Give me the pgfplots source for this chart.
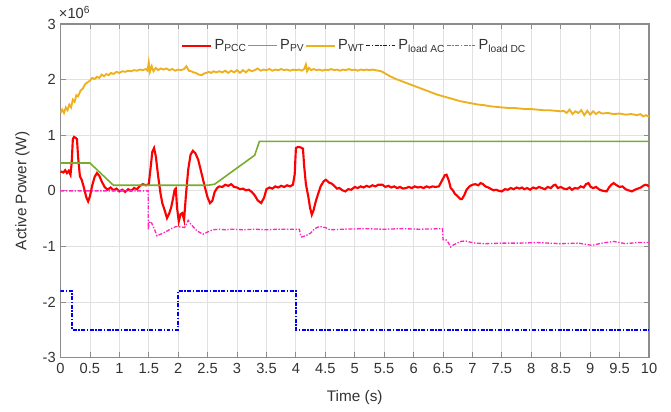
\documentclass[border=0pt]{standalone}
\usepackage{fontspec}
\setmainfont{Liberation Sans}
\usepackage{pgfplots}
\pgfplotsset{compat=1.18}
\definecolor{pcc}{RGB}{255,0,0}
\definecolor{pv}{RGB}{119,172,48}
\definecolor{wt}{RGB}{237,177,32}
\definecolor{lac}{RGB}{0,0,255}
\definecolor{ldc}{RGB}{255,40,190}
\definecolor{gridc}{RGB}{225,225,225}
\definecolor{axc}{RGB}{140,140,140}
\definecolor{txt}{RGB}{50,50,50}
\begin{document}
\begin{tikzpicture}
\begin{axis}[
  scale only axis,
  clip mode=individual,
  width=441.75pt, height=250.5pt,
  xmin=0, xmax=10, ymin=-3, ymax=3,
  xtick distance=0.5, ytick={-3,-2,-1,0,1,2,3},
  tick align=inside,
  major tick length=4pt,
  grid=major,
  major grid style={gridc, line width=0.6pt},
  axis line style={axc, line width=0.8pt},
  tick style={axc, line width=0.6pt},
  every tick label/.append style={font=\fontsize{11}{12}\selectfont, text=txt},
  /pgf/number format/assume math mode=true,
  xticklabel style={yshift=-1pt},
  xlabel={Time (s)}, ylabel={Active Power (W)},
  label style={font=\fontsize{11.5}{13}\selectfont, text=txt},
  xlabel style={yshift=-5pt},
  ylabel style={yshift=3pt},
  legend columns=5,
  legend style={draw=none, fill=none, at={(rel axis cs:0.198,0.97)}, anchor=north west,
    font=\fontsize{11}{12}\selectfont, text=txt,
    /tikz/every even column/.append style={column sep=-1.3pt},
    /tikz/every odd column/.append style={column sep=0pt}},
  legend image code/.code={\draw[#1] (0cm,0cm) -- (0.75cm,0cm);},
]
\addplot[pcc, line width=1.6pt] coordinates {
(0,0.35)(0.05,0.33)(0.08,0.37)(0.11,0.32)(0.14,0.36)(0.17,0.29)(0.19,0.5)(0.21,0.93)(0.23,0.97)(0.26,0.95)(0.28,0.93)(0.30,0.6)(0.33,0.26)(0.36,0.2)(0.40,0.05)(0.44,-0.12)(0.47,-0.19)(0.50,-0.1)(0.54,0.1)(0.58,0.25)(0.62,0.32)(0.66,0.27)(0.70,0.17)(0.75,0.07)(0.80,0.02)(0.85,0.06)(0.90,0.01)(0.95,0.04)(1.00,-0.01)(1.05,0.02)(1.10,-0.02)(1.15,0.03)(1.20,0.0)(1.25,0.05)(1.30,0.03)(1.35,0.09)(1.40,0.12)(1.45,0.10)(1.50,0.12)(1.53,0.4)(1.56,0.70)(1.59,0.77)(1.62,0.62)(1.66,0.26)(1.70,-0.05)(1.73,-0.22)(1.77,-0.35)(1.81,-0.49)(1.85,-0.40)(1.88,-0.30)(1.91,-0.15)(1.94,0.02)(1.96,0.04)(1.98,-0.3)(2.01,-0.55)(2.04,-0.42)(2.07,-0.40)(2.10,-0.52)(2.13,-0.1)(2.17,0.38)(2.21,0.65)(2.25,0.72)(2.29,0.68)(2.34,0.56)(2.40,0.3)(2.45,0.08)(2.50,-0.12)(2.54,-0.22)(2.58,-0.18)(2.62,-0.02)(2.66,0.05)(2.70,0.08)(2.75,0.07)(2.80,0.11)(2.85,0.09)(2.90,0.12)(2.95,0.07)(3.00,0.06)(3.05,0.03)(3.10,0.04)(3.15,0.01)(3.20,0.02)(3.25,-0.02)(3.30,-0.08)(3.35,-0.17)(3.41,-0.22)(3.46,-0.12)(3.50,0.03)(3.55,0.06)(3.60,0.04)(3.65,0.08)(3.70,0.06)(3.75,0.09)(3.80,0.07)(3.85,0.10)(3.90,0.08)(3.95,0.11)(3.98,0.3)(4.00,0.77)(4.04,0.79)(4.08,0.78)(4.12,0.76)(4.14,0.45)(4.17,0.12)(4.21,-0.1)(4.24,-0.3)(4.27,-0.43)(4.30,-0.35)(4.34,-0.18)(4.37,-0.08)(4.42,0.08)(4.47,0.17)(4.51,0.20)(4.56,0.15)(4.61,0.13)(4.66,0.08)(4.70,0.04)(4.74,0.05)(4.79,0.01)(4.84,-0.01)(4.89,0.03)(4.94,0.02)(5.00,0.07)(5.05,0.05)(5.10,0.08)(5.15,0.06)(5.20,0.09)(5.25,0.07)(5.30,0.10)(5.35,0.08)(5.40,0.11)(5.47,0.11)(5.52,0.07)(5.57,0.09)(5.62,0.06)(5.67,0.08)(5.72,0.05)(5.77,0.07)(5.82,0.04)(5.87,0.05)(5.92,0.07)(5.97,0.05)(6.02,0.08)(6.07,0.06)(6.12,0.07)(6.17,0.05)(6.22,0.08)(6.27,0.06)(6.32,0.08)(6.37,0.07)(6.43,0.08)(6.48,0.18)(6.53,0.28)(6.56,0.29)(6.60,0.18)(6.63,0.05)(6.66,0.02)(6.70,-0.05)(6.75,-0.10)(6.80,-0.15)(6.82,-0.15)(6.86,-0.08)(6.90,0.02)(6.95,0.08)(7.00,0.11)(7.05,0.12)(7.10,0.10)(7.14,0.14)(7.18,0.12)(7.22,0.08)(7.27,0.06)(7.32,0.03)(7.36,0.01)(7.40,0.02)(7.45,0.0)(7.50,-0.01)(7.55,0.03)(7.60,0.02)(7.65,0.05)(7.70,0.03)(7.75,0.06)(7.80,0.04)(7.84,0.06)(7.88,0.03)(7.93,0.05)(7.98,0.02)(8.03,0.06)(8.08,0.04)(8.13,0.07)(8.18,0.05)(8.23,0.03)(8.28,0.07)(8.33,0.05)(8.38,0.10)(8.41,0.11)(8.45,0.05)(8.50,0.07)(8.55,0.04)(8.60,0.03)(8.65,0.06)(8.69,0.02)(8.74,0.05)(8.79,0.04)(8.84,0.08)(8.89,0.06)(8.93,0.12)(8.97,0.14)(9.01,0.07)(9.05,0.05)(9.10,0.07)(9.16,0.02)(9.22,0.00)(9.28,-0.01)(9.32,0.06)(9.36,0.11)(9.40,0.14)(9.45,0.10)(9.50,0.07)(9.55,0.08)(9.60,0.03)(9.65,0.01)(9.71,-0.01)(9.76,0.02)(9.81,0.04)(9.86,0.06)(9.90,0.09)(9.94,0.11)(9.97,0.10)(10.0,0.08)
};
\addlegendentry{P\textsubscript{PCC}}
\addplot[pv, line width=1.2pt] coordinates {
(0,0.5)(0.5,0.5)(0.9,0.1)(2.5,0.1)(2.62,0.12)(3.30,0.64)(3.38,0.89)(10,0.89)
};
\addlegendentry{P\textsubscript{PV}}
\addplot[wt, line width=1.4pt] coordinates {
(0,1.40)(0.03,1.46)(0.06,1.40)(0.09,1.50)(0.12,1.45)(0.15,1.55)(0.18,1.50)(0.21,1.64)(0.24,1.60)(0.27,1.72)(0.30,1.70)(0.34,1.80)(0.38,1.84)(0.42,1.92)(0.46,1.95)(0.50,1.98)(0.54,2.03)(0.58,2.01)(0.62,2.05)(0.66,2.03)(0.70,2.09)(0.74,2.06)(0.78,2.10)(0.82,2.08)(0.86,2.12)(0.90,2.10)(0.95,2.14)(1.00,2.12)(1.05,2.15)(1.10,2.14)(1.15,2.16)(1.20,2.15)(1.25,2.17)(1.30,2.16)(1.35,2.18)(1.40,2.17)(1.45,2.19)(1.48,2.16)(1.50,2.31)(1.52,2.14)(1.55,2.24)(1.58,2.15)(1.62,2.21)(1.66,2.17)(1.70,2.20)(1.75,2.18)(1.80,2.20)(1.85,2.17)(1.90,2.19)(1.95,2.16)(2.00,2.18)(2.05,2.17)(2.10,2.19)(2.14,2.24)(2.18,2.16)(2.22,2.15)(2.26,2.13)(2.30,2.12)(2.35,2.09)(2.40,2.08)(2.44,2.11)(2.48,2.12)(2.52,2.14)(2.56,2.12)(2.60,2.15)(2.65,2.13)(2.70,2.15)(2.75,2.13)(2.80,2.16)(2.85,2.12)(2.90,2.16)(2.95,2.13)(3.00,2.17)(3.05,2.12)(3.10,2.17)(3.15,2.13)(3.20,2.18)(3.25,2.15)(3.30,2.17)(3.35,2.20)(3.40,2.16)(3.45,2.18)(3.50,2.17)(3.55,2.19)(3.60,2.16)(3.65,2.18)(3.70,2.17)(3.75,2.19)(3.80,2.17)(3.85,2.18)(3.90,2.16)(3.95,2.18)(4.00,2.17)(4.05,2.18)(4.10,2.16)(4.14,2.19)(4.17,2.27)(4.19,2.15)(4.22,2.21)(4.26,2.17)(4.30,2.19)(4.35,2.17)(4.40,2.18)(4.45,2.16)(4.50,2.18)(4.55,2.17)(4.60,2.19)(4.65,2.17)(4.70,2.18)(4.75,2.16)(4.80,2.18)(4.85,2.17)(4.90,2.19)(4.95,2.17)(5.00,2.18)(5.05,2.16)(5.10,2.18)(5.15,2.17)(5.20,2.18)(5.25,2.17)(5.30,2.18)(5.35,2.17)(5.40,2.16)(5.45,2.15)(5.50,2.12)(5.60,2.06)(5.70,2.01)(5.80,1.97)(5.90,1.93)(6.00,1.89)(6.10,1.85)(6.20,1.81)(6.30,1.77)(6.40,1.73)(6.50,1.70)(6.60,1.67)(6.70,1.64)(6.80,1.61)(6.90,1.59)(7.00,1.57)(7.10,1.55)(7.20,1.54)(7.30,1.52)(7.40,1.51)(7.50,1.50)(7.60,1.49)(7.70,1.49)(7.80,1.48)(7.90,1.47)(8.00,1.47)(8.10,1.46)(8.20,1.45)(8.30,1.45)(8.40,1.44)(8.50,1.43)(8.55,1.44)(8.60,1.40)(8.65,1.46)(8.70,1.38)(8.75,1.43)(8.80,1.40)(8.85,1.45)(8.90,1.36)(8.95,1.44)(9.00,1.37)(9.05,1.43)(9.10,1.38)(9.15,1.42)(9.20,1.39)(9.30,1.40)(9.40,1.38)(9.50,1.39)(9.60,1.37)(9.70,1.38)(9.80,1.36)(9.85,1.38)(9.90,1.34)(9.95,1.36)(10.0,1.33)
};
\addlegendentry{P\textsubscript{WT}}
\addplot[lac, line width=1.2pt, dash pattern=on 3pt off 1.2pt on 1pt off 1.2pt] coordinates {
(0,-1.8)(0.2,-1.8)(0.2,-2.5)(2.0,-2.5)(2.0,-1.8)(4.0,-1.8)(4.0,-2.5)(10,-2.5)
};
\addlegendentry{P\textsubscript{load AC}}
\addplot[ldc, line width=1.0pt, dash pattern=on 3pt off 1.2pt on 1pt off 1.2pt] coordinates {
(0,0)(1.49,0)(1.49,-0.70)(1.51,-0.55)(1.55,-0.58)(1.60,-0.70)(1.64,-0.81)(1.70,-0.78)(1.80,-0.73)(1.90,-0.67)(1.97,-0.64)(2.05,-0.65)(2.11,-0.66)(2.14,-0.60)(2.17,-0.53)(2.20,-0.58)(2.25,-0.64)(2.32,-0.72)(2.42,-0.78)(2.50,-0.74)(2.59,-0.70)(2.70,-0.69)(2.80,-0.70)(2.93,-0.69)(3.1,-0.70)(3.3,-0.69)(3.5,-0.70)(3.7,-0.69)(4.06,-0.69)(4.08,-0.80)(4.10,-0.83)(4.18,-0.80)(4.25,-0.76)(4.32,-0.68)(4.40,-0.64)(4.50,-0.66)(4.58,-0.70)(4.8,-0.69)(5.16,-0.68)(5.5,-0.69)(5.8,-0.68)(6.1,-0.69)(6.49,-0.68)(6.50,-0.88)(6.55,-0.88)(6.59,-0.93)(6.63,-1.01)(6.68,-0.97)(6.72,-0.95)(6.80,-0.91)(6.88,-0.90)(6.95,-0.92)(7.05,-0.94)(7.22,-0.95)(7.5,-0.94)(7.8,-0.94)(8.1,-0.93)(8.5,-0.95)(8.8,-0.94)(9.03,-0.98)(9.2,-0.94)(9.4,-0.91)(9.6,-0.95)(9.8,-0.93)(10,-0.93)
};
\addlegendentry{P\textsubscript{load DC}}
\node[anchor=south west, inner sep=0pt, text=txt, font=\fontsize{11}{12}\selectfont] at (rel axis cs:-0.003,1.015) {×10\textsuperscript{6}};
\coordinate (bl) at (rel axis cs:0,0);
\coordinate (tr) at (rel axis cs:1,1);
\end{axis}
\pgfresetboundingbox
\path (bl) ++(-45.4pt,-40.5pt) coordinate (BB1);
\path (tr) ++(16.5pt,18pt) coordinate (BB2);
\useasboundingbox (BB1) rectangle (BB2);
\end{tikzpicture}
\end{document}
